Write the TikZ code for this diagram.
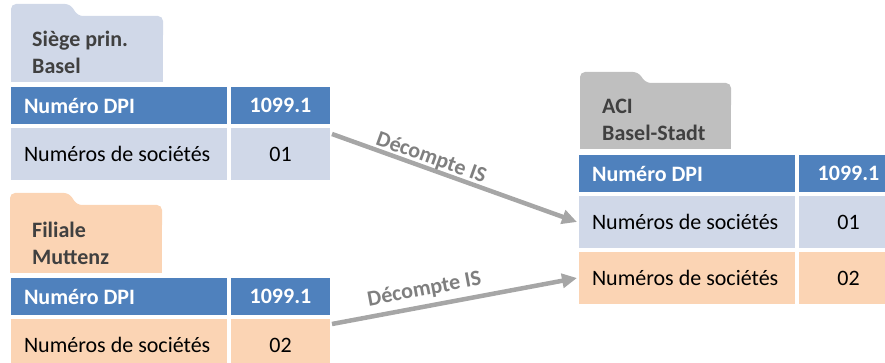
\documentclass[tikz,border=0pt]{standalone}
\usepackage{fontspec}
\setmainfont{Carlito}
\usepackage{xcolor}
\usetikzlibrary{arrows.meta, positioning}

\definecolor{hdrblue}{HTML}{4F81BD}
\definecolor{rowblue}{HTML}{D0D8E8}
\definecolor{rowpeach}{HTML}{FBD4B4}
\definecolor{foldergrey}{HTML}{BFBFBF}
\definecolor{arrowgrey}{HTML}{A6A6A6}
\definecolor{labelgrey}{HTML}{7F7F7F}
\definecolor{foldertext}{HTML}{404040}

\begin{document}
\begin{tikzpicture}[
			x=1pt, y=-1pt,
			every node/.style={font=\fontsize{22}{27}\selectfont},
			cell/.style={rectangle, draw=white, line width=4pt, inner sep=0pt, outer sep=0pt},
			keycell/.style={cell, fill=#1, minimum height=56pt, inner xsep=15pt,
				execute at begin node={\hbox to 190pt\bgroup}, execute at end node={\hfil\egroup}},
			valcell/.style={cell, fill=#1, minimum height=56pt, minimum width=103pt},
			hdrkey/.style={keycell=hdrblue, minimum height=41pt, text=white, font=\fontsize{22}{27}\selectfont\bfseries},
			hdrval/.style={valcell=hdrblue, minimum height=41pt, text=white, font=\fontsize{22}{27}\selectfont\bfseries},
			tabtext/.style={text=foldertext, font=\fontsize{22}{27}\selectfont\bfseries, align=left, anchor=base west, inner sep=0pt},
			line/.style={arrowgrey, line width=4.5pt, -{Triangle[length=15pt, width=14pt]}},
			lbl/.style={text=labelgrey, font=\fontsize{22}{27}\selectfont\bfseries, sloped, inner sep=0pt}
			]
			\useasboundingbox (0,0) rectangle (885,363);
			
			% folders
			\fill[rowblue, rounded corners=5pt] (11,40) -- (11,4) -- (70,4) -- (78,16) -- (163,16) -- (163,40) -- cycle;
			\fill[rowblue] (11,30) rectangle (163,82);
			\fill[rowpeach, rounded corners=5pt] (10,230) -- (10,193) -- (69,193) -- (77,205) -- (162,205) -- (162,230) -- cycle;
			\fill[rowpeach] (10,220) rectangle (162,273);
			\fill[foldergrey, rounded corners=5pt] (580,110) -- (580,72) -- (638,72) -- (646,83) -- (731,83) -- (731,110) -- cycle;
			\fill[foldergrey] (580,100) rectangle (731,149);
			
			\node[tabtext] (hqtxt) at (32,74) {Siège prin.\\Basel};
			\node[tabtext] (brtxt) at (32,264) {Filiale\\Muttenz};
			\node[tabtext] (acitxt) at (602,141) {ACI\\Basel-Stadt};
			
			% siege
			\node[hdrkey, anchor=north west] (hqkey) at (9,85) {Numéro DPI};
			\node[hdrval, right=0pt of hqkey] (hqval) {1099.1};
			\node[keycell=rowblue, below=0pt of hqkey] (hqnum) {Numéros de sociétés};
			\node[valcell=rowblue, right=0pt of hqnum] (hqno) {01};
			
			% filiale
			\node[hdrkey, anchor=north west] (brkey) at (9,276) {Numéro DPI};
			\node[hdrval, right=0pt of brkey] (brval) {1099.1};
			\node[keycell=rowpeach, below=0pt of brkey] (brnum) {Numéros de sociétés};
			\node[valcell=rowpeach, right=0pt of brnum] (brno) {02};
			
			% ACI
			\node[hdrkey, anchor=north west] (acikey) at (577,153) {Numéro DPI};
			\node[hdrval, right=0pt of acikey] (acival) {1099.1};
			\node[keycell=rowblue, below=0pt of acikey] (acinuma) {Numéros de sociétés};
			\node[valcell=rowblue, right=0pt of acinuma] (acinoa) {01};
			\node[keycell=rowpeach, below=0pt of acinuma] (acinumb) {Numéros de sociétés};
			\node[valcell=rowpeach, right=0pt of acinumb] (acinob) {02};
			
			\draw[line] ([yshift=-8pt]hqno.north east) -- node[lbl, pos=0.39, above=-1pt] {Décompte IS} (acinuma.west);
			\draw[line] ([yshift=-7pt]brno.north east) -- node[lbl, pos=0.39, above=5pt] {Décompte IS} (acinumb.west);
		\end{tikzpicture}
\end{document}
